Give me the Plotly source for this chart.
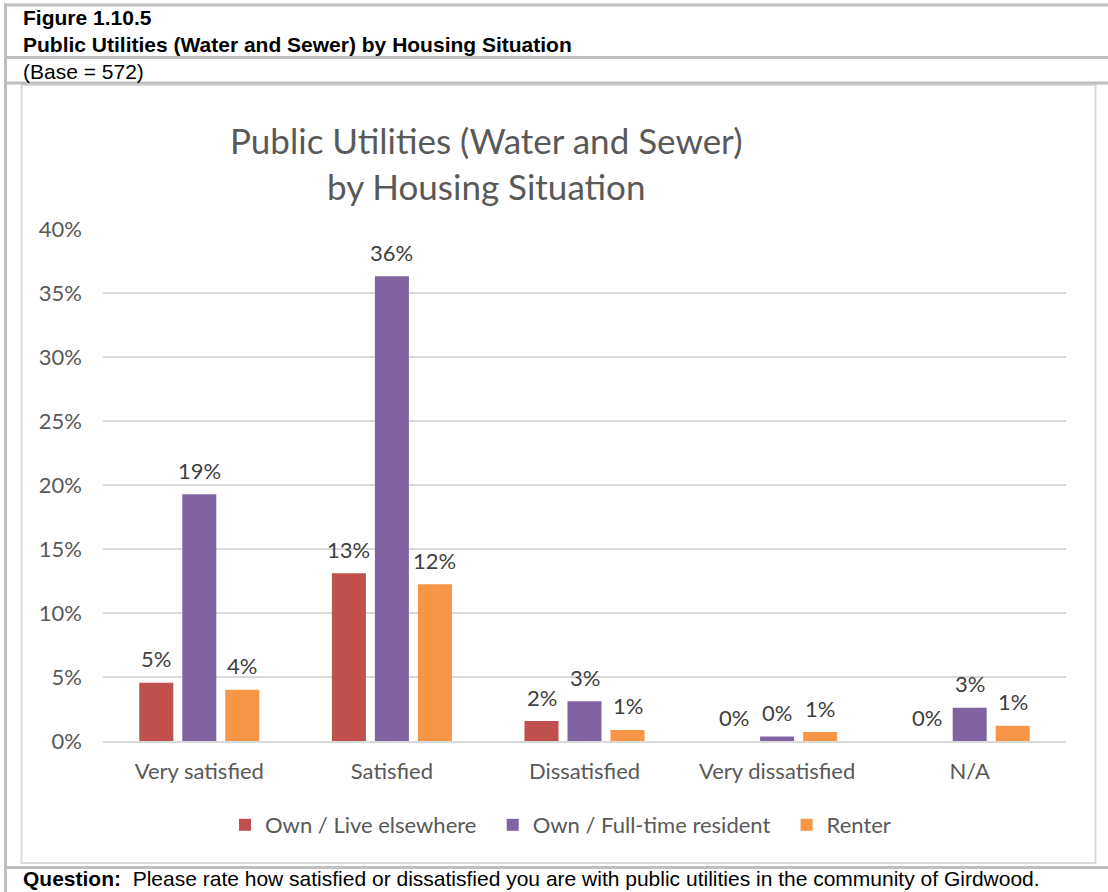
import plotly.graph_objects as go

categories = ["Very satisfied", "Satisfied", "Dissatisfied", "Very dissatisfied", "N/A"]
series_names = ["Own / Live elsewhere", "Own / Full-time resident", "Renter"]
own_elsewhere = [0.0455, 0.131, 0.0156, 0.0, 0.0]
own_fulltime = [0.1927, 0.363, 0.031, 0.0035, 0.026]
renter = [0.040, 0.1224, 0.0086, 0.007, 0.012]
series_values = [own_elsewhere, own_fulltime, renter]
series_colors = ["#C0504D", "#8064A2", "#F79646"]
y_ticks = [0, 0.05, 0.10, 0.15, 0.20, 0.25, 0.30, 0.35, 0.40]

W_FIG, H_FIG = 1108, 892
L, R, T, B = 103, 1066, 229, 741
PW, PH = R - L, B - T

def px(x):
    return (x - L) / PW

def py(y):
    return (B - y) / PH

GRAY = "#595959"
CHART_FONT = "Lato"
HDR_FONT = "Liberation Sans"
HDR_SIZE = 21
PAD = "\u00a0" * 2

fig = go.Figure()
for name, vals, col in zip(series_names, series_values, series_colors):
    fig.add_trace(go.Bar(x=categories, y=vals, name=name + PAD,
                         marker=dict(color=col, line=dict(width=0))))

# data labels
offsets = [-43, 0, 43]
annotations = []
for vals, off in zip(series_values, offsets):
    for c, v in zip(categories, vals):
        annotations.append(dict(x=c, y=v, xref="x", yref="y", text=f"{v*100:.0f}%",
                                showarrow=False, xshift=off, yshift=24, yanchor="middle",
                                font=dict(family=CHART_FONT, size=22, color="#404040")))

# chart title
annotations.append(dict(x=px(486), y=py(163), xref="paper", yref="paper",
                        text="Public Utilities (Water and Sewer)<br>by Housing Situation",
                        showarrow=False, xanchor="center", yanchor="middle", align="center",
                        font=dict(family=CHART_FONT, size=35, color=GRAY)))

# header / footer texts
annotations += [
    dict(x=px(21), y=py(17), xref="paper", yref="paper", text="<b>Figure 1.10.5</b>",
         showarrow=False, xanchor="left", yanchor="middle",
         font=dict(family=HDR_FONT, size=HDR_SIZE, color="black")),
    dict(x=px(21), y=py(44), xref="paper", yref="paper",
         text="<b>Public Utilities (Water and Sewer) by Housing Situation</b>",
         showarrow=False, xanchor="left", yanchor="middle",
         font=dict(family=HDR_FONT, size=HDR_SIZE, color="black")),
    dict(x=px(21), y=py(71), xref="paper", yref="paper", text="(Base = 572)",
         showarrow=False, xanchor="left", yanchor="middle",
         font=dict(family=HDR_FONT, size=HDR_SIZE, color="black")),
    dict(x=px(21), y=py(892), xref="paper", yref="paper",
         text="<b>Question:</b>  Please rate how satisfied or dissatisfied you are with public utilities in the community of Girdwood.",
         showarrow=False, xanchor="left", yanchor="bottom",
         font=dict(family=HDR_FONT, size=HDR_SIZE, color="black")),
]

OUT = "#BFBFBF"
shapes = [
    dict(type="rect", xref="paper", yref="paper", x0=px(21.5), x1=px(1095.5), y0=py(85), y1=py(863),
         line=dict(color="#D9D9D9", width=2), fillcolor="rgba(0,0,0,0)", layer="below"),
    dict(type="line", xref="paper", yref="paper", x0=px(4), x1=px(1108), y0=py(5), y1=py(5),
         line=dict(color=OUT, width=3)),
    dict(type="line", xref="paper", yref="paper", x0=px(4), x1=px(1108), y0=py(57.5), y1=py(57.5),
         line=dict(color=OUT, width=3)),
    dict(type="line", xref="paper", yref="paper", x0=px(4), x1=px(1108), y0=py(83), y1=py(83),
         line=dict(color=OUT, width=3)),
    dict(type="line", xref="paper", yref="paper", x0=px(4), x1=px(1108), y0=py(867.5), y1=py(867.5),
         line=dict(color=OUT, width=3)),
    dict(type="line", xref="paper", yref="paper", x0=px(5.5), x1=px(5.5), y0=py(3.5), y1=py(892),
         line=dict(color=OUT, width=3)),
]

fig.update_layout(
    width=W_FIG, height=H_FIG,
    margin=dict(l=L, r=W_FIG - R, t=T, b=H_FIG - B, autoexpand=False),
    paper_bgcolor="white", plot_bgcolor="white",
    barmode="group", bargap=0.33, bargroupgap=0.209,
    showlegend=True,
    legend=dict(orientation="h", x=px(225), xanchor="left", y=py(825), yanchor="middle",
                font=dict(family=CHART_FONT, size=22, color=GRAY), traceorder="normal",
                itemwidth=30),
    annotations=annotations, shapes=shapes,
    font=dict(family=CHART_FONT, color=GRAY),
)
fig.update_yaxes(range=[0, 0.40], tickvals=y_ticks, tickformat=".0%",
                 showgrid=True, gridcolor="#D9D9D9", gridwidth=2,
                 zeroline=False, showline=False, ticks="",
                 tickfont=dict(family=CHART_FONT, size=22, color=GRAY),
                 ticklabelstandoff=20)
fig.update_xaxes(showline=True, linecolor="#D9D9D9", linewidth=2, ticks="",
                 tickfont=dict(family=CHART_FONT, size=22, color=GRAY),
                 ticklabelstandoff=10)

fig.write_html("out.html", config={"displayModeBar": False},
               post_script="document.body.style.margin='0';")
